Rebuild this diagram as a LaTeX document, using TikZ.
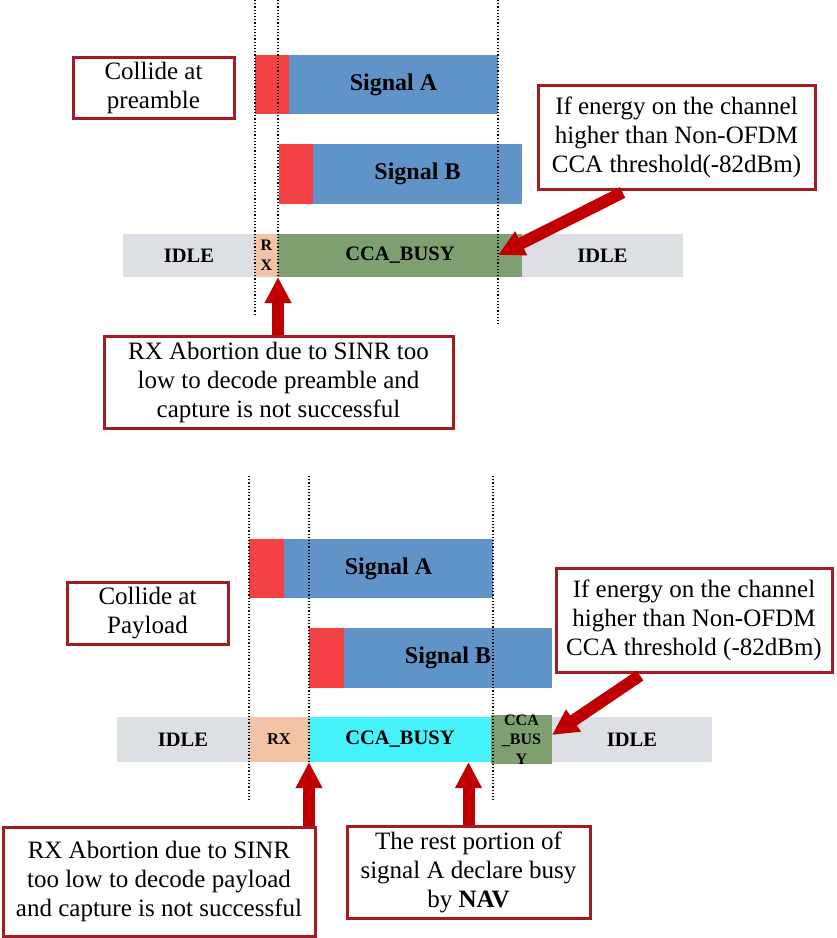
\documentclass[tikz,border=0pt]{standalone}
\usepackage{fontspec}
\setmainfont{Liberation Serif}
\usetikzlibrary{arrows.meta}
\definecolor{sigblue}{HTML}{6094C8}
\definecolor{sigred}{HTML}{F44143}
\definecolor{idlegray}{HTML}{DCDFE3}
\definecolor{rxpeach}{HTML}{F2C4A5}
\definecolor{busygreen}{HTML}{7E9F6F}
\definecolor{busycyan}{HTML}{45F2FA}
\definecolor{boxred}{HTML}{A31C21}
\definecolor{arrowred}{HTML}{C00000}
\tikzset{
  lbox/.style={draw=boxred, line width=3pt, fill=white, align=center, inner sep=0pt,
    font=\fontsize{25}{29}\selectfont},
  seg/.style={inner sep=0pt, outer sep=0pt, align=center,
    font=\bfseries\fontsize{20.5}{24}\selectfont},
  sigtext/.style={seg, font=\bfseries\fontsize{24}{28}\selectfont},
  smallseg/.style={seg, font=\bfseries\fontsize{16}{19.5}\selectfont},
  guide/.style={dotted, line width=1.2pt, black},
  bigarrow/.style={draw=arrowred, line width=12pt, -{Triangle[length=26pt,width=25pt,fill=arrowred]}},
}
\begin{document}
\begin{tikzpicture}[x=1pt,y=-1pt]
\useasboundingbox (0,0) rectangle (837,938);
\fill[white] (0,0) rectangle (837,938);

% ---------------- top part ----------------
\node[seg, fill=sigred, minimum width=34pt, minimum height=59pt] (ared1) at (272,84.5) {};
\node[sigtext, fill=sigblue, minimum width=209pt, minimum height=59pt] (ablue1) at (393.5,84.5) {Signal A};
\node[seg, fill=sigred, minimum width=34pt, minimum height=60pt] (bred1) at (296,174) {};
\node[sigtext, fill=sigblue, minimum width=209pt, minimum height=60pt] (bblue1) at (417.5,174) {Signal B};

\node[seg, fill=idlegray, minimum width=132pt, minimum height=43pt] (idleL1) at (189,255.5) {IDLE};
\node[smallseg, fill=rxpeach, minimum width=23pt, minimum height=43pt] (rx1) at (266.5,255.5) {R\\X};
\node[seg, fill=busygreen, minimum width=244pt, minimum height=43pt] (busy1) at (400,255.5) {CCA\_BUSY};
\node[seg, fill=idlegray, minimum width=161pt, minimum height=43pt] (idleR1) at (602.5,255.5) {IDLE};

\coordinate (g1a) at (255,0); \coordinate (g1b) at (255,315);
\coordinate (g2a) at (278,0); \coordinate (g2b) at (278,278);
\coordinate (g3a) at (498,0); \coordinate (g3b) at (498,326);
\draw[guide] (g1a) -- (g1b);
\draw[guide] (g2a) -- (g2b);
\draw[guide] (g3a) -- (g3b);

\node[lbox, minimum width=161pt, minimum height=61pt] (coll1) at (153.5,87.5) {Collide at\\preamble};
\node[lbox, minimum width=277pt, minimum height=104pt] (ener1) at (676.5,137) {If energy on the channel\\higher than Non-OFDM\\CCA threshold(-82dBm)};
\node[lbox, minimum width=349pt, minimum height=92pt] (rxab1) at (278.5,382) {RX Abortion due to SINR too\\low to decode preamble and\\capture is not successful};

\coordinate (tip1) at (498,255);
\draw[bigarrow] ([xshift=-54pt,yshift=-2pt]ener1.south) -- (tip1);
\draw[bigarrow] ([xshift=-0.5pt]rxab1.north) -- (busy1.south west);

% ---------------- bottom part ----------------
\node[seg, fill=sigred, minimum width=35pt, minimum height=59pt] (ared2) at (266.5,568.5) {};
\node[sigtext, fill=sigblue, minimum width=209pt, minimum height=59pt] (ablue2) at (388.5,568.5) {Signal A};
\node[seg, fill=sigred, minimum width=35pt, minimum height=60pt] (bred2) at (326.5,658) {};
\node[sigtext, fill=sigblue, minimum width=208pt, minimum height=60pt] (bblue2) at (448,658) {Signal B};

\node[seg, fill=idlegray, minimum width=132pt, minimum height=45pt] (idleL2) at (183,739.5) {IDLE};
\node[seg, fill=rxpeach, minimum width=60pt, minimum height=45pt, font=\bfseries\fontsize{16.5}{20}\selectfont] (rx2) at (279,739.5) {RX};
\node[seg, fill=busycyan, minimum width=182pt, minimum height=45pt] (busy2) at (400,739.5) {CCA\_BUSY};
\node[smallseg, fill=busygreen, minimum width=61pt, minimum height=45pt] (busy2b) at (521.5,739.5) {CCA\\\_BUS\\Y};
\node[seg, fill=idlegray, minimum width=160pt, minimum height=45pt] (idleR2) at (632,739.5) {IDLE};

\coordinate (h1a) at (249,476); \coordinate (h1b) at (249,800);
\coordinate (h2a) at (309,476); \coordinate (h2b) at (309,762);
\coordinate (h3a) at (493,476); \coordinate (h3b) at (493,800);
\draw[guide] (h1a) -- (h1b);
\draw[guide] (h2a) -- (h2b);
\draw[guide] (h3a) -- (h3b);

\node[lbox, minimum width=161pt, minimum height=62pt] (coll2) at (147.5,613) {Collide at\\Payload};
\node[lbox, minimum width=276pt, minimum height=104pt] (ener2) at (694,620) {If energy on the channel\\higher than Non-OFDM\\CCA threshold (-82dBm)};
\node[lbox, minimum width=312pt, minimum height=109pt] (rxab2) at (159,881.5) {RX Abortion due to SINR\\too low to decode payload\\and capture is not successful};
\node[lbox, minimum width=243pt, minimum height=92pt] (rest) at (468.5,872) {The rest portion of\\signal A declare busy\\by \textbf{NAV}};

\coordinate (tip2) at (552,735);
\draw[bigarrow] ([xshift=-54pt,yshift=-2pt]ener2.south) -- (tip2);
\draw[bigarrow] (rxab2.north -| busy2.west) -- (busy2.south west);
\draw[bigarrow] (rest.north) -- (rest.north |- busy2.south);
\end{tikzpicture}
\end{document}
